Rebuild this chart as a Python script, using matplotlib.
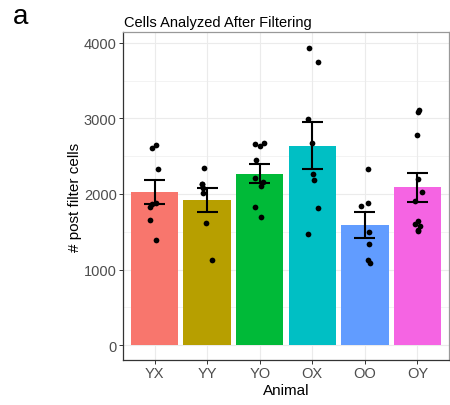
import numpy as np
import matplotlib
matplotlib.use("Agg")
import matplotlib.pyplot as plt

plt.rcParams['font.family'] = ['Liberation Sans', 'DejaVu Sans']

groups = ['YX', 'YY', 'YO', 'OX', 'OO', 'OY']
colors = ['#F8766D', '#B79F00', '#00BA38', '#00BFC4', '#619CFF', '#F564E3']

# post filter cell counts per animal
yx_cells = [2610, 2650, 2324, 1884, 1862, 1827, 1660, 1386]
yy_cells = [2350, 2135, 2130, 2078, 2012, 1620, 1131]
yo_cells = [2658, 2632, 2680, 2447, 2218, 2152, 2112, 1827, 1699]
ox_cells = [3934, 3740, 2997, 2676, 2263, 2188, 1809, 1471]
oo_cells = [2333, 1835, 1880, 1497, 1339, 1122, 1083]
oy_cells = [3107, 3089, 2786, 2201, 2029, 1906, 1646, 1607, 1576, 1518, 1505]
cells = [yx_cells, yy_cells, yo_cells, ox_cells, oo_cells, oy_cells]

# horizontal jitter of the dots (category units)
yx_jit = [-0.057, 0.032, 0.057, 0.032, -0.051, -0.082, -0.082, 0.032]
yy_jit = [-0.057, -0.095, -0.09, -0.082, -0.070, -0.013, 0.095]
yo_jit = [-0.089, 0.0, 0.082, -0.063, -0.082, 0.070, 0.032, -0.089, 0.019]
ox_jit = [-0.070, 0.101, -0.089, -0.006, 0.006, 0.032, 0.101, -0.082]
oo_jit = [0.057, -0.076, 0.063, 0.076, 0.082, 0.063, 0.095]
oy_jit = [0.025, 0.019, -0.006, 0.013, 0.095, -0.044, 0.019, -0.051, 0.057, 0.019, 0.006]
jitter = [yx_jit, yy_jit, yo_jit, ox_jit, oo_jit, oy_jit]

means = [np.mean(c) for c in cells]
sems = [np.std(c, ddof=1) / np.sqrt(len(c)) for c in cells]
x = np.arange(1, len(groups) + 1)

fig = plt.figure(figsize=(4.5, 4.06), dpi=100)
ax = fig.add_axes([123 / 450, 1 - 361 / 406, 326 / 450, 328 / 406])

ax.bar(x, means, width=0.9, color=colors, zorder=2)
ax.vlines(x, np.subtract(means, sems), np.add(means, sems), color='black', lw=1.5, zorder=3)
ax.hlines(np.subtract(means, sems), x - 0.2, x + 0.2, color='black', lw=1.5, zorder=3)
ax.hlines(np.add(means, sems), x - 0.2, x + 0.2, color='black', lw=1.5, zorder=3)
for i in range(len(groups)):
    ax.scatter(x[i] + np.array(jitter[i]), cells[i], s=17, color='black', lw=0, zorder=4)

ax.set_xlim(0.4, 6.6)
ax.set_ylim(-194, 4141)
ax.set_xticks(x)
ax.set_xticklabels(groups)
ax.set_yticks([0, 1000, 2000, 3000, 4000])
ax.set_yticks([500, 1500, 2500, 3500], minor=True)
ax.grid(True, which='major', color='#EBEBEB', lw=0.8, zorder=0)
ax.grid(True, which='minor', axis='y', color='#EBEBEB', lw=0.4, zorder=0)
ax.set_axisbelow(True)
ax.tick_params(axis='both', which='major', length=3, width=0.7, color='#333333',
               labelcolor='#4D4D4D', labelsize=10.5, pad=1.5)
ax.tick_params(axis='both', which='minor', length=0)
for side in ['left', 'bottom']:
    ax.spines[side].set_color('#333333')
    ax.spines[side].set_linewidth(0.9)
for side in ['top', 'right']:
    ax.spines[side].set_color('#999999')
    ax.spines[side].set_linewidth(0.9)

ax.set_xlabel('Animal', fontsize=11, labelpad=2)
ax.set_ylabel('# post filter cells', fontsize=11, labelpad=1)
fig.text(124 / 450, 1 - 26.5 / 406, 'Cells Analyzed After Filtering', fontsize=10.5, va='baseline')
fig.text(13 / 450, 1 - 23.5 / 406, 'a', fontsize=20, va='baseline')

fig.savefig('out.png', dpi=100)
